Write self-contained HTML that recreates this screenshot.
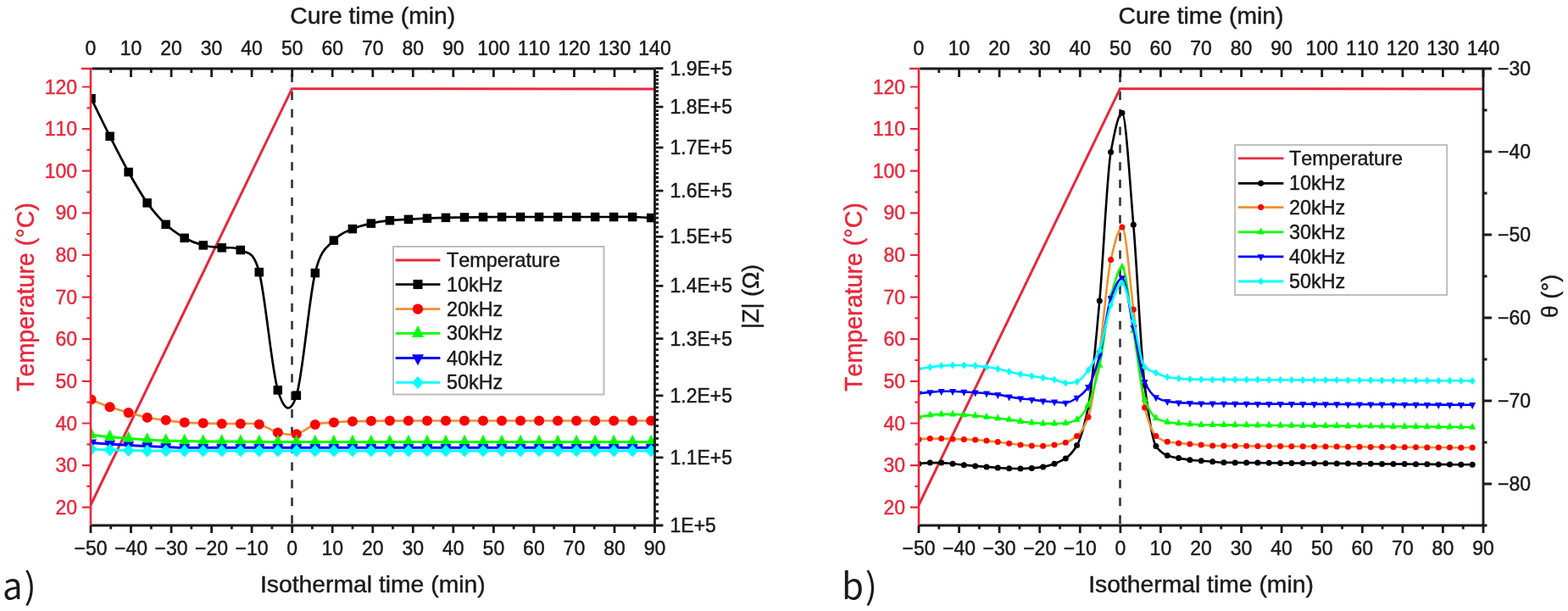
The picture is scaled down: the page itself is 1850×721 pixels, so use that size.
<!DOCTYPE html><html><head><meta charset="utf-8"><style>html,body{margin:0;padding:0;background:#fff;width:1850px;height:721px;overflow:hidden}svg{display:block;font-kerning:none}</style></head><body>
<svg width="1850" height="721" viewBox="0 0 1850 721">
<rect width="1850" height="721" fill="#fff"/>
<defs><clipPath id="ca"><rect x="107" y="81" width="665.5" height="539"/></clipPath><clipPath id="cb"><rect x="1084" y="81" width="666" height="539"/></clipPath></defs>
<path d="M344.5,81V620" stroke="#333" stroke-width="2.6" stroke-dasharray="10 10.84" stroke-dashoffset="14.79"/>
<g clip-path="url(#ca)">
<path d="M107,596L344.5,104.7L772.5,105" stroke="#e8283c" stroke-width="3" fill="none" stroke-linejoin="miter"/>
<path d="M107.6,116.2C111.3,123.6 122.3,146.3 129.6,160.8C137,175.3 144.3,189.9 151.6,203C159,216.1 166.3,229.1 173.7,239.4C181,249.7 188.3,257.9 195.7,264.8C203,271.7 210.4,276.7 217.7,280.8C225,284.9 232.4,287.6 239.7,289.5C247.1,291.4 254.4,291.4 261.7,292.3C269.1,293.2 276.4,290.2 283.8,295C291.1,299.8 298.4,293.5 305.8,321.1C313.1,348.7 320.5,436.1 327.8,460.4C335.1,484.6 342.5,489.7 349.8,466.6C357.2,443.6 364.5,352.6 371.8,322.1C379.2,291.6 386.5,292.3 393.9,283.6C401.2,274.9 408.5,273.4 415.9,270.1C423.2,266.8 430.6,265.4 437.9,263.7C445.2,262 452.6,261 459.9,260.2C467.3,259.4 474.6,259.2 481.9,258.8C489.3,258.4 496.6,257.9 504,257.6C511.3,257.3 518.6,257.1 526,256.9C533.3,256.7 540.7,256.6 548,256.5C555.3,256.4 562.7,256.3 570,256.2C577.4,256.1 584.7,256 592,256C599.4,256 606.7,256 614.1,256C621.4,256 628.7,256 636.1,256C643.4,256 650.8,256 658.1,256C665.4,256 672.8,256 680.1,256C687.5,256 694.8,256 702.1,256C709.5,256 716.8,256 724.2,256C731.5,256 738.8,255.8 746.2,256C753.5,256.2 764.5,256.8 768.2,257" stroke="#000" stroke-width="2.7" fill="none" stroke-linejoin="round"/>
<g fill="#000"><rect x="102.3" y="111" width="10.5" height="10.5"/><rect x="124.4" y="155.6" width="10.5" height="10.5"/><rect x="146.4" y="197.8" width="10.5" height="10.5"/><rect x="168.4" y="234.2" width="10.5" height="10.5"/><rect x="190.4" y="259.6" width="10.5" height="10.5"/><rect x="212.4" y="275.6" width="10.5" height="10.5"/><rect x="234.5" y="284.2" width="10.5" height="10.5"/><rect x="256.5" y="287.1" width="10.5" height="10.5"/><rect x="278.5" y="289.8" width="10.5" height="10.5"/><rect x="300.5" y="315.9" width="10.5" height="10.5"/><rect x="322.5" y="455.1" width="10.5" height="10.5"/><rect x="344.6" y="461.4" width="10.5" height="10.5"/><rect x="366.6" y="316.9" width="10.5" height="10.5"/><rect x="388.6" y="278.4" width="10.5" height="10.5"/><rect x="410.6" y="264.9" width="10.5" height="10.5"/><rect x="432.6" y="258.4" width="10.5" height="10.5"/><rect x="454.7" y="254.9" width="10.5" height="10.5"/><rect x="476.7" y="253.6" width="10.5" height="10.5"/><rect x="498.7" y="252.4" width="10.5" height="10.5"/><rect x="520.7" y="251.6" width="10.5" height="10.5"/><rect x="542.8" y="251.2" width="10.5" height="10.5"/><rect x="564.8" y="250.9" width="10.5" height="10.5"/><rect x="586.8" y="250.8" width="10.5" height="10.5"/><rect x="608.8" y="250.8" width="10.5" height="10.5"/><rect x="630.8" y="250.8" width="10.5" height="10.5"/><rect x="652.9" y="250.8" width="10.5" height="10.5"/><rect x="674.9" y="250.8" width="10.5" height="10.5"/><rect x="696.9" y="250.8" width="10.5" height="10.5"/><rect x="718.9" y="250.8" width="10.5" height="10.5"/><rect x="740.9" y="250.8" width="10.5" height="10.5"/><rect x="763" y="251.8" width="10.5" height="10.5"/></g>
<path d="M107.6,471.6C111.3,473.1 122.3,477.7 129.6,480.3C137,482.9 144.3,484.9 151.6,487C159,489.1 166.3,491.2 173.7,492.7C181,494.2 188.3,494.8 195.7,495.8C203,496.8 210.4,498 217.7,498.6C225,499.2 232.4,499.1 239.7,499.3C247.1,499.5 254.4,499.9 261.7,500C269.1,500.1 276.4,499.9 283.8,500C291.1,500.1 298.4,498.9 305.8,500.7C313.1,502.4 320.5,508.6 327.8,510.5C335.1,512.4 342.5,513.8 349.8,512.2C357.2,510.6 364.5,503.2 371.8,500.9C379.2,498.6 386.5,499.1 393.9,498.5C401.2,497.9 408.5,497.5 415.9,497.2C423.2,496.9 430.6,496.9 437.9,496.8C445.2,496.7 452.6,496.7 459.9,496.6C467.3,496.6 474.6,496.5 481.9,496.5C489.3,496.5 496.6,496.5 504,496.5C511.3,496.5 518.6,496.5 526,496.5C533.3,496.5 540.7,496.5 548,496.5C555.3,496.5 562.7,496.5 570,496.5C577.4,496.5 584.7,496.5 592,496.5C599.4,496.5 606.7,496.5 614.1,496.5C621.4,496.5 628.7,496.5 636.1,496.5C643.4,496.5 650.8,496.5 658.1,496.5C665.4,496.5 672.8,496.5 680.1,496.5C687.5,496.5 694.8,496.5 702.1,496.5C709.5,496.5 716.8,496.5 724.2,496.5C731.5,496.5 738.8,496.5 746.2,496.5C753.5,496.5 764.5,496.5 768.2,496.5" stroke="#f09030" stroke-width="2.7" fill="none" stroke-linejoin="round"/>
<g fill="#ff0000"><circle cx="107.6" cy="471.6" r="6"/><circle cx="129.6" cy="480.3" r="6"/><circle cx="151.6" cy="487" r="6"/><circle cx="173.7" cy="492.7" r="6"/><circle cx="195.7" cy="495.8" r="6"/><circle cx="217.7" cy="498.6" r="6"/><circle cx="239.7" cy="499.3" r="6"/><circle cx="261.7" cy="500" r="6"/><circle cx="283.8" cy="500" r="6"/><circle cx="305.8" cy="500.7" r="6"/><circle cx="327.8" cy="510.5" r="6"/><circle cx="349.8" cy="512.2" r="6"/><circle cx="371.8" cy="500.9" r="6"/><circle cx="393.9" cy="498.5" r="6"/><circle cx="415.9" cy="497.2" r="6"/><circle cx="437.9" cy="496.8" r="6"/><circle cx="459.9" cy="496.6" r="6"/><circle cx="481.9" cy="496.5" r="6"/><circle cx="504" cy="496.5" r="6"/><circle cx="526" cy="496.5" r="6"/><circle cx="548" cy="496.5" r="6"/><circle cx="570" cy="496.5" r="6"/><circle cx="592" cy="496.5" r="6"/><circle cx="614.1" cy="496.5" r="6"/><circle cx="636.1" cy="496.5" r="6"/><circle cx="658.1" cy="496.5" r="6"/><circle cx="680.1" cy="496.5" r="6"/><circle cx="702.1" cy="496.5" r="6"/><circle cx="724.2" cy="496.5" r="6"/><circle cx="746.2" cy="496.5" r="6"/><circle cx="768.2" cy="496.5" r="6"/></g>
<path d="M107.6,513C111.3,513.4 122.3,514.8 129.6,515.5C137,516.2 144.3,516.9 151.6,517.5C159,518.1 166.3,518.6 173.7,519C181,519.4 188.3,519.8 195.7,520C203,520.2 210.4,520.3 217.7,520.5C225,520.7 232.4,520.9 239.7,521C247.1,521.1 254.4,521 261.7,521C269.1,521 276.4,521.2 283.8,521.2C291.1,521.2 298.4,521.2 305.8,521.3C313.1,521.3 320.5,521.5 327.8,521.5C335.1,521.5 342.5,521.5 349.8,521.5C357.2,521.5 364.5,521.5 371.8,521.5C379.2,521.5 386.5,521.5 393.9,521.5C401.2,521.5 408.5,521.5 415.9,521.5C423.2,521.5 430.6,521.5 437.9,521.5C445.2,521.5 452.6,521.5 459.9,521.5C467.3,521.5 474.6,521.5 481.9,521.5C489.3,521.5 496.6,521.5 504,521.5C511.3,521.5 518.6,521.5 526,521.5C533.3,521.5 540.7,521.5 548,521.5C555.3,521.5 562.7,521.5 570,521.5C577.4,521.5 584.7,521.5 592,521.5C599.4,521.5 606.7,521.5 614.1,521.5C621.4,521.5 628.7,521.5 636.1,521.5C643.4,521.5 650.8,521.5 658.1,521.5C665.4,521.5 672.8,521.5 680.1,521.5C687.5,521.5 694.8,521.5 702.1,521.5C709.5,521.5 716.8,521.5 724.2,521.5C731.5,521.5 738.8,521.5 746.2,521.5C753.5,521.5 764.5,521.5 768.2,521.5" stroke="#00ff00" stroke-width="3" fill="none" stroke-linejoin="round"/>
<g fill="#00ff00"><path d="M107.6,504.3L114.1,517.3L101.1,517.3Z"/><path d="M129.6,506.8L136.1,519.8L123.1,519.8Z"/><path d="M151.6,508.8L158.1,521.8L145.1,521.8Z"/><path d="M173.7,510.3L180.2,523.3L167.2,523.3Z"/><path d="M195.7,511.3L202.2,524.3L189.2,524.3Z"/><path d="M217.7,511.8L224.2,524.8L211.2,524.8Z"/><path d="M239.7,512.3L246.2,525.3L233.2,525.3Z"/><path d="M261.7,512.3L268.2,525.3L255.2,525.3Z"/><path d="M283.8,512.5L290.3,525.5L277.3,525.5Z"/><path d="M305.8,512.6L312.3,525.6L299.3,525.6Z"/><path d="M327.8,512.8L334.3,525.8L321.3,525.8Z"/><path d="M349.8,512.8L356.3,525.8L343.3,525.8Z"/><path d="M371.8,512.8L378.3,525.8L365.3,525.8Z"/><path d="M393.9,512.8L400.4,525.8L387.4,525.8Z"/><path d="M415.9,512.8L422.4,525.8L409.4,525.8Z"/><path d="M437.9,512.8L444.4,525.8L431.4,525.8Z"/><path d="M459.9,512.8L466.4,525.8L453.4,525.8Z"/><path d="M481.9,512.8L488.4,525.8L475.4,525.8Z"/><path d="M504,512.8L510.5,525.8L497.5,525.8Z"/><path d="M526,512.8L532.5,525.8L519.5,525.8Z"/><path d="M548,512.8L554.5,525.8L541.5,525.8Z"/><path d="M570,512.8L576.5,525.8L563.5,525.8Z"/><path d="M592,512.8L598.5,525.8L585.5,525.8Z"/><path d="M614.1,512.8L620.6,525.8L607.6,525.8Z"/><path d="M636.1,512.8L642.6,525.8L629.6,525.8Z"/><path d="M658.1,512.8L664.6,525.8L651.6,525.8Z"/><path d="M680.1,512.8L686.6,525.8L673.6,525.8Z"/><path d="M702.1,512.8L708.6,525.8L695.6,525.8Z"/><path d="M724.2,512.8L730.7,525.8L717.7,525.8Z"/><path d="M746.2,512.8L752.7,525.8L739.7,525.8Z"/><path d="M768.2,512.8L774.7,525.8L761.7,525.8Z"/></g>
<path d="M107.6,522.5C111.3,522.8 122.3,523.5 129.6,524C137,524.5 144.3,525.1 151.6,525.5C159,525.9 166.3,526.2 173.7,526.5C181,526.8 188.3,527.2 195.7,527.5C203,527.8 210.4,528.2 217.7,528.3C225,528.4 232.4,528.3 239.7,528.3C247.1,528.3 254.4,528.3 261.7,528.3C269.1,528.3 276.4,528.3 283.8,528.3C291.1,528.3 298.4,528.3 305.8,528.3C313.1,528.3 320.5,528.3 327.8,528.3C335.1,528.3 342.5,528.3 349.8,528.3C357.2,528.3 364.5,528.3 371.8,528.3C379.2,528.3 386.5,528.3 393.9,528.3C401.2,528.3 408.5,528.3 415.9,528.3C423.2,528.3 430.6,528.3 437.9,528.3C445.2,528.3 452.6,528.3 459.9,528.3C467.3,528.3 474.6,528.3 481.9,528.3C489.3,528.3 496.6,528.3 504,528.3C511.3,528.3 518.6,528.3 526,528.3C533.3,528.3 540.7,528.3 548,528.3C555.3,528.3 562.7,528.3 570,528.3C577.4,528.3 584.7,528.3 592,528.3C599.4,528.3 606.7,528.3 614.1,528.3C621.4,528.3 628.7,528.3 636.1,528.3C643.4,528.3 650.8,528.3 658.1,528.3C665.4,528.3 672.8,528.3 680.1,528.3C687.5,528.3 694.8,528.3 702.1,528.3C709.5,528.3 716.8,528.3 724.2,528.3C731.5,528.3 738.8,528.3 746.2,528.3C753.5,528.3 764.5,528.3 768.2,528.3" stroke="#0000ff" stroke-width="3" fill="none" stroke-linejoin="round"/>
<g fill="#0000ff"><path d="M101.1,518.5L114.1,518.5L107.6,530.5Z"/><path d="M123.1,520L136.1,520L129.6,532Z"/><path d="M145.1,521.5L158.1,521.5L151.6,533.5Z"/><path d="M167.2,522.5L180.2,522.5L173.7,534.5Z"/><path d="M189.2,523.5L202.2,523.5L195.7,535.5Z"/><path d="M211.2,524.3L224.2,524.3L217.7,536.3Z"/><path d="M233.2,524.3L246.2,524.3L239.7,536.3Z"/><path d="M255.2,524.3L268.2,524.3L261.7,536.3Z"/><path d="M277.3,524.3L290.3,524.3L283.8,536.3Z"/><path d="M299.3,524.3L312.3,524.3L305.8,536.3Z"/><path d="M321.3,524.3L334.3,524.3L327.8,536.3Z"/><path d="M343.3,524.3L356.3,524.3L349.8,536.3Z"/><path d="M365.3,524.3L378.3,524.3L371.8,536.3Z"/><path d="M387.4,524.3L400.4,524.3L393.9,536.3Z"/><path d="M409.4,524.3L422.4,524.3L415.9,536.3Z"/><path d="M431.4,524.3L444.4,524.3L437.9,536.3Z"/><path d="M453.4,524.3L466.4,524.3L459.9,536.3Z"/><path d="M475.4,524.3L488.4,524.3L481.9,536.3Z"/><path d="M497.5,524.3L510.5,524.3L504,536.3Z"/><path d="M519.5,524.3L532.5,524.3L526,536.3Z"/><path d="M541.5,524.3L554.5,524.3L548,536.3Z"/><path d="M563.5,524.3L576.5,524.3L570,536.3Z"/><path d="M585.5,524.3L598.5,524.3L592,536.3Z"/><path d="M607.6,524.3L620.6,524.3L614.1,536.3Z"/><path d="M629.6,524.3L642.6,524.3L636.1,536.3Z"/><path d="M651.6,524.3L664.6,524.3L658.1,536.3Z"/><path d="M673.6,524.3L686.6,524.3L680.1,536.3Z"/><path d="M695.6,524.3L708.6,524.3L702.1,536.3Z"/><path d="M717.7,524.3L730.7,524.3L724.2,536.3Z"/><path d="M739.7,524.3L752.7,524.3L746.2,536.3Z"/><path d="M761.7,524.3L774.7,524.3L768.2,536.3Z"/></g>
<path d="M107.6,530C111.3,530.2 122.3,530.8 129.6,531C137,531.2 144.3,531.3 151.6,531.5C159,531.7 166.3,531.9 173.7,532C181,532.1 188.3,532 195.7,532C203,532 210.4,532 217.7,532C225,532 232.4,532 239.7,532C247.1,532 254.4,532 261.7,532C269.1,532 276.4,532 283.8,532C291.1,532 298.4,532 305.8,532C313.1,532 320.5,532 327.8,532C335.1,532 342.5,532 349.8,532C357.2,532 364.5,532 371.8,532C379.2,532 386.5,532 393.9,532C401.2,532 408.5,532 415.9,532C423.2,532 430.6,532 437.9,532C445.2,532 452.6,532 459.9,532C467.3,532 474.6,532 481.9,532C489.3,532 496.6,532 504,532C511.3,532 518.6,532 526,532C533.3,532 540.7,532 548,532C555.3,532 562.7,532 570,532C577.4,532 584.7,532 592,532C599.4,532 606.7,532 614.1,532C621.4,532 628.7,532 636.1,532C643.4,532 650.8,532 658.1,532C665.4,532 672.8,532 680.1,532C687.5,532 694.8,532 702.1,532C709.5,532 716.8,532 724.2,532C731.5,532 738.8,532 746.2,532C753.5,532 764.5,532 768.2,532" stroke="#00ffff" stroke-width="3" fill="none" stroke-linejoin="round"/>
<g fill="#00ffff"><path d="M107.6,522.5L114.6,530L107.6,537.5L100.6,530Z"/><path d="M129.6,523.5L136.6,531L129.6,538.5L122.6,531Z"/><path d="M151.6,524L158.6,531.5L151.6,539L144.6,531.5Z"/><path d="M173.7,524.5L180.7,532L173.7,539.5L166.7,532Z"/><path d="M195.7,524.5L202.7,532L195.7,539.5L188.7,532Z"/><path d="M217.7,524.5L224.7,532L217.7,539.5L210.7,532Z"/><path d="M239.7,524.5L246.7,532L239.7,539.5L232.7,532Z"/><path d="M261.7,524.5L268.7,532L261.7,539.5L254.7,532Z"/><path d="M283.8,524.5L290.8,532L283.8,539.5L276.8,532Z"/><path d="M305.8,524.5L312.8,532L305.8,539.5L298.8,532Z"/><path d="M327.8,524.5L334.8,532L327.8,539.5L320.8,532Z"/><path d="M349.8,524.5L356.8,532L349.8,539.5L342.8,532Z"/><path d="M371.8,524.5L378.8,532L371.8,539.5L364.8,532Z"/><path d="M393.9,524.5L400.9,532L393.9,539.5L386.9,532Z"/><path d="M415.9,524.5L422.9,532L415.9,539.5L408.9,532Z"/><path d="M437.9,524.5L444.9,532L437.9,539.5L430.9,532Z"/><path d="M459.9,524.5L466.9,532L459.9,539.5L452.9,532Z"/><path d="M481.9,524.5L488.9,532L481.9,539.5L474.9,532Z"/><path d="M504,524.5L511,532L504,539.5L497,532Z"/><path d="M526,524.5L533,532L526,539.5L519,532Z"/><path d="M548,524.5L555,532L548,539.5L541,532Z"/><path d="M570,524.5L577,532L570,539.5L563,532Z"/><path d="M592,524.5L599,532L592,539.5L585,532Z"/><path d="M614.1,524.5L621.1,532L614.1,539.5L607.1,532Z"/><path d="M636.1,524.5L643.1,532L636.1,539.5L629.1,532Z"/><path d="M658.1,524.5L665.1,532L658.1,539.5L651.1,532Z"/><path d="M680.1,524.5L687.1,532L680.1,539.5L673.1,532Z"/><path d="M702.1,524.5L709.1,532L702.1,539.5L695.1,532Z"/><path d="M724.2,524.5L731.2,532L724.2,539.5L717.2,532Z"/><path d="M746.2,524.5L753.2,532L746.2,539.5L739.2,532Z"/><path d="M768.2,524.5L775.2,532L768.2,539.5L761.2,532Z"/></g>
</g>
<g stroke="#1a1a1a" stroke-width="2.8" fill="none">
<path d="M108.3,81H772.5"/>
<path d="M107,620H772.5"/>
<path d="M772.5,81V620"/>
<path d="M130.8,81v5M154.5,81v10M178.3,81v5M202.1,81v10M225.8,81v5M249.6,81v10M273.4,81v5M297.1,81v10M320.9,81v5M344.7,81v10M368.4,81v5M392.2,81v10M416,81v5M439.8,81v10M463.5,81v5M487.3,81v10M511.1,81v5M534.8,81v10M558.6,81v5M582.4,81v10M606.1,81v5M629.9,81v10M653.7,81v5M677.4,81v10M701.2,81v5M725,81v10M748.7,81v5M772.5,81v10M107,620v9M130.8,620v4.5M154.5,620v9M178.3,620v4.5M202.1,620v9M225.8,620v4.5M249.6,620v9M273.4,620v4.5M297.1,620v9M320.9,620v4.5M344.7,620v9M368.4,620v4.5M392.2,620v9M416,620v4.5M439.8,620v9M463.5,620v4.5M487.3,620v9M511.1,620v4.5M534.8,620v9M558.6,620v4.5M582.4,620v9M606.1,620v4.5M629.9,620v9M653.7,620v4.5M677.4,620v9M701.2,620v4.5M725,620v9M748.7,620v4.5M772.5,620v9M772.5,620h10M772.5,611.6h4.5M772.5,603.4h4.5M772.5,595.2h4.5M772.5,587h4.5M772.5,579h4.5M772.5,571h4.5M772.5,563.2h4.5M772.5,555.3h4.5M772.5,547.6h4.5M772.5,539.9h10M772.5,532.3h4.5M772.5,524.8h4.5M772.5,517.3h4.5M772.5,509.9h4.5M772.5,502.6h4.5M772.5,495.3h4.5M772.5,488.1h4.5M772.5,480.9h4.5M772.5,473.8h4.5M772.5,466.8h10M772.5,459.8h4.5M772.5,452.9h4.5M772.5,446.1h4.5M772.5,439.3h4.5M772.5,432.5h4.5M772.5,425.8h4.5M772.5,419.2h4.5M772.5,412.6h4.5M772.5,406.1h4.5M772.5,399.6h10M772.5,393.1h4.5M772.5,386.7h4.5M772.5,380.4h4.5M772.5,374.1h4.5M772.5,367.9h4.5M772.5,361.7h4.5M772.5,355.5h4.5M772.5,349.4h4.5M772.5,343.3h4.5M772.5,337.3h10M772.5,331.3h4.5M772.5,325.4h4.5M772.5,319.5h4.5M772.5,313.6h4.5M772.5,307.8h4.5M772.5,302h4.5M772.5,296.3h4.5M772.5,290.6h4.5M772.5,285h4.5M772.5,279.3h10M772.5,273.8h4.5M772.5,268.2h4.5M772.5,262.7h4.5M772.5,257.2h4.5M772.5,251.8h4.5M772.5,246.4h4.5M772.5,241h4.5M772.5,235.7h4.5M772.5,230.4h4.5M772.5,225.1h10M772.5,219.9h4.5M772.5,214.7h4.5M772.5,209.5h4.5M772.5,204.4h4.5M772.5,199.3h4.5M772.5,194.2h4.5M772.5,189.1h4.5M772.5,184.1h4.5M772.5,179.1h4.5M772.5,174.2h10M772.5,169.2h4.5M772.5,164.3h4.5M772.5,159.5h4.5M772.5,154.6h4.5M772.5,149.8h4.5M772.5,145h4.5M772.5,140.3h4.5M772.5,135.5h4.5M772.5,130.8h4.5M772.5,126.1h10M772.5,121.5h4.5M772.5,116.9h4.5M772.5,112.3h4.5M772.5,107.7h4.5M772.5,103.1h4.5M772.5,98.6h4.5M772.5,94.1h4.5M772.5,89.6h4.5M772.5,85.2h4.5M772.5,80.7h10"/>
</g>
<path d="M107,79.7V620M96,81H108.3" stroke="#e8283c" stroke-width="2.6" fill="none"/>
<path d="M107,598.7h-10M107,573.9h-4.5M107,549.1h-10M107,524.3h-4.5M107,499.5h-10M107,474.7h-4.5M107,449.8h-10M107,425h-4.5M107,400.2h-10M107,375.4h-4.5M107,350.6h-10M107,325.8h-4.5M107,301h-10M107,276.2h-4.5M107,251.4h-10M107,226.6h-4.5M107,201.7h-10M107,176.9h-4.5M107,152.1h-10M107,127.3h-4.5M107,102.5h-10" stroke="#e8283c" stroke-width="2.2" fill="none"/>
<g font-family="Liberation Sans, Arial, sans-serif" stroke-width="0.45" font-size="23" fill="#1a1a1a" text-anchor="middle" stroke="#1a1a1a">
<text x="107" y="64.5">0</text>
<text x="154.5" y="64.5">10</text>
<text x="202.1" y="64.5">20</text>
<text x="249.6" y="64.5">30</text>
<text x="297.1" y="64.5">40</text>
<text x="344.7" y="64.5">50</text>
<text x="392.2" y="64.5">60</text>
<text x="439.8" y="64.5">70</text>
<text x="487.3" y="64.5">80</text>
<text x="534.8" y="64.5">90</text>
<text x="582.4" y="64.5">100</text>
<text x="629.9" y="64.5">110</text>
<text x="677.4" y="64.5">120</text>
<text x="725" y="64.5">130</text>
<text x="772.5" y="64.5">140</text>
<text x="107" y="655">−50</text>
<text x="154.5" y="655">−40</text>
<text x="202.1" y="655">−30</text>
<text x="249.6" y="655">−20</text>
<text x="297.1" y="655">−10</text>
<text x="344.7" y="655">0</text>
<text x="392.2" y="655">10</text>
<text x="439.8" y="655">20</text>
<text x="487.3" y="655">30</text>
<text x="534.8" y="655">40</text>
<text x="582.4" y="655">50</text>
<text x="629.9" y="655">60</text>
<text x="677.4" y="655">70</text>
<text x="725" y="655">80</text>
<text x="772.5" y="655">90</text>
</g>
<g font-family="Liberation Sans, Arial, sans-serif" stroke-width="0.45" font-size="23" fill="#e8283c" text-anchor="end" stroke="#e8283c">
<text x="91" y="606.7">20</text>
<text x="91" y="557.1">30</text>
<text x="91" y="507.5">40</text>
<text x="91" y="457.8">50</text>
<text x="91" y="408.2">60</text>
<text x="91" y="358.6">70</text>
<text x="91" y="309">80</text>
<text x="91" y="259.4">90</text>
<text x="91" y="209.7">100</text>
<text x="91" y="160.1">110</text>
<text x="91" y="110.5">120</text>
</g>
<g font-family="Liberation Sans, Arial, sans-serif" stroke-width="0.45" font-size="23" fill="#1a1a1a" stroke="#1a1a1a">
<text x="790.5" y="628">1E+5</text>
<text x="790.5" y="547.9">1.1E+5</text>
<text x="790.5" y="474.8">1.2E+5</text>
<text x="790.5" y="407.6">1.3E+5</text>
<text x="790.5" y="345.3">1.4E+5</text>
<text x="790.5" y="287.3">1.5E+5</text>
<text x="790.5" y="233.1">1.6E+5</text>
<text x="790.5" y="182.2">1.7E+5</text>
<text x="790.5" y="134.1">1.8E+5</text>
<text x="790.5" y="88.7">1.9E+5</text>
</g>
<g font-family="Liberation Sans, Arial, sans-serif" stroke-width="0.45" font-size="28.3" fill="#1a1a1a" text-anchor="middle" stroke="#1a1a1a">
<text x="439.8" y="28">Cure time (min)</text>
<text x="439.8" y="699">Isothermal time (min)</text>
</g>
<text font-family="Liberation Sans, Arial, sans-serif" stroke-width="0.45" font-size="28.6" fill="#e8283c" text-anchor="middle" transform="translate(40,350.5) rotate(-90)" stroke="#e8283c">Temperature (°C)</text>
<path d="M1321.5,81V620" stroke="#333" stroke-width="2.6" stroke-dasharray="10 10.84" stroke-dashoffset="14.79"/>
<g clip-path="url(#cb)">
<path d="M1084,596L1321.5,104.7L1750,105" stroke="#e8283c" stroke-width="3" fill="none" stroke-linejoin="miter"/>
<path d="M1084,547.2C1088.4,546.7 1092.9,546.1 1097.3,546.1C1101.8,546.1 1106.2,546.1 1110.7,546.1C1115.1,546.1 1119.5,546.8 1124,547.2C1128.4,547.6 1132.9,548.4 1137.3,548.8C1141.8,549.2 1146.2,549.6 1150.7,549.9C1155.1,550.2 1159.5,550.6 1164,550.9C1168.4,551.2 1172.9,551.6 1177.3,551.9C1181.8,552.2 1186.2,552.7 1190.6,552.8C1195.1,552.9 1199.5,553 1204,553C1208.4,553 1212.9,552.7 1217.3,552.4C1221.7,552.1 1226.2,551.6 1230.6,550.9C1235.1,550.2 1239.5,548.8 1244,547.2C1248.4,545.6 1252.8,543.9 1257.3,540.9C1261.7,537.9 1266.2,533.2 1270.6,525.5C1275.1,517.8 1279.5,502.2 1284,480C1288.4,457.8 1292.8,403.7 1297.3,355C1301.7,306.3 1306.2,203.9 1310.6,179.5C1315.1,155.1 1319.5,133.3 1323.9,133.3C1328.4,133.3 1332.8,213.4 1337.3,265.3C1341.7,317.2 1346.2,420.4 1350.6,455C1355,489.6 1359.5,520.1 1363.9,526.5C1368.4,532.9 1372.8,535.9 1377.3,537.5C1381.7,539.1 1386.1,539.8 1390.6,540.6C1395,541.4 1399.5,542.2 1403.9,542.7C1408.4,543.2 1412.8,543.4 1417.2,543.7C1421.7,544 1426.1,544.5 1430.6,544.8C1435,545.1 1439.5,545.7 1443.9,545.8C1448.4,545.9 1452.8,545.9 1457.2,545.9C1461.7,546 1466.1,546 1470.6,546C1475,546.1 1479.5,546.1 1483.9,546.1C1488.3,546.2 1492.8,546.2 1497.2,546.3C1501.7,546.3 1506.1,546.3 1510.6,546.4C1515,546.4 1519.4,546.4 1523.9,546.5C1528.3,546.5 1532.8,546.6 1537.2,546.6C1541.7,546.6 1546.1,546.7 1550.5,546.7C1555,546.7 1559.4,546.8 1563.9,546.8C1568.3,546.9 1572.8,546.9 1577.2,546.9C1581.7,547 1586.1,547 1590.5,547C1595,547.1 1599.4,547.1 1603.9,547.2C1608.3,547.2 1612.8,547.2 1617.2,547.3C1621.6,547.3 1626.1,547.4 1630.5,547.4C1635,547.4 1639.4,547.5 1643.9,547.5C1648.3,547.5 1652.7,547.6 1657.2,547.6C1661.6,547.7 1666.1,547.7 1670.5,547.7C1675,547.8 1679.4,547.8 1683.8,547.8C1688.3,547.9 1692.7,547.9 1697.2,548C1701.6,548 1706.1,548 1710.5,548.1C1715,548.1 1719.4,548.1 1723.8,548.2C1728.3,548.2 1732.7,548.3 1737.2,548.3" stroke="#000" stroke-width="2.6" fill="none" stroke-linejoin="round"/>
<g fill="#000"><circle cx="1084" cy="547.2" r="3.5"/><circle cx="1097.3" cy="546.1" r="3.5"/><circle cx="1110.7" cy="546.1" r="3.5"/><circle cx="1124" cy="547.2" r="3.5"/><circle cx="1137.3" cy="548.8" r="3.5"/><circle cx="1150.7" cy="549.9" r="3.5"/><circle cx="1164" cy="550.9" r="3.5"/><circle cx="1177.3" cy="551.9" r="3.5"/><circle cx="1190.6" cy="552.8" r="3.5"/><circle cx="1204" cy="553" r="3.5"/><circle cx="1217.3" cy="552.4" r="3.5"/><circle cx="1230.6" cy="550.9" r="3.5"/><circle cx="1244" cy="547.2" r="3.5"/><circle cx="1257.3" cy="540.9" r="3.5"/><circle cx="1270.6" cy="525.5" r="3.5"/><circle cx="1284" cy="480" r="3.5"/><circle cx="1297.3" cy="355" r="3.5"/><circle cx="1310.6" cy="179.5" r="3.5"/><circle cx="1323.9" cy="133.3" r="3.5"/><circle cx="1337.3" cy="265.3" r="3.5"/><circle cx="1350.6" cy="455" r="3.5"/><circle cx="1363.9" cy="526.5" r="3.5"/><circle cx="1377.3" cy="537.5" r="3.5"/><circle cx="1390.6" cy="540.6" r="3.5"/><circle cx="1403.9" cy="542.7" r="3.5"/><circle cx="1417.2" cy="543.7" r="3.5"/><circle cx="1430.6" cy="544.8" r="3.5"/><circle cx="1443.9" cy="545.8" r="3.5"/><circle cx="1457.2" cy="545.9" r="3.5"/><circle cx="1470.6" cy="546" r="3.5"/><circle cx="1483.9" cy="546.1" r="3.5"/><circle cx="1497.2" cy="546.3" r="3.5"/><circle cx="1510.6" cy="546.4" r="3.5"/><circle cx="1523.9" cy="546.5" r="3.5"/><circle cx="1537.2" cy="546.6" r="3.5"/><circle cx="1550.5" cy="546.7" r="3.5"/><circle cx="1563.9" cy="546.8" r="3.5"/><circle cx="1577.2" cy="546.9" r="3.5"/><circle cx="1590.5" cy="547" r="3.5"/><circle cx="1603.9" cy="547.2" r="3.5"/><circle cx="1617.2" cy="547.3" r="3.5"/><circle cx="1630.5" cy="547.4" r="3.5"/><circle cx="1643.9" cy="547.5" r="3.5"/><circle cx="1657.2" cy="547.6" r="3.5"/><circle cx="1670.5" cy="547.7" r="3.5"/><circle cx="1683.8" cy="547.8" r="3.5"/><circle cx="1697.2" cy="548" r="3.5"/><circle cx="1710.5" cy="548.1" r="3.5"/><circle cx="1723.8" cy="548.2" r="3.5"/><circle cx="1737.2" cy="548.3" r="3.5"/></g>
<path d="M1084,518.4C1088.4,518 1092.9,517.6 1097.3,517.6C1101.8,517.6 1106.2,517.6 1110.7,517.6C1115.1,517.6 1119.5,517.9 1124,518C1128.4,518.1 1132.9,518.2 1137.3,518.4C1141.8,518.6 1146.2,518.8 1150.7,519.1C1155.1,519.4 1159.5,519.7 1164,520.1C1168.4,520.5 1172.9,521.1 1177.3,521.6C1181.8,522.1 1186.2,522.7 1190.6,523.2C1195.1,523.7 1199.5,524.5 1204,524.9C1208.4,525.3 1212.9,525.7 1217.3,525.9C1221.7,526.1 1226.2,526.3 1230.6,526.3C1235.1,526.3 1239.5,525.5 1244,524.9C1248.4,524.3 1252.8,523.5 1257.3,522.2C1261.7,520.9 1266.2,518.3 1270.6,514.5C1275.1,510.7 1279.5,503.7 1284,492.2C1288.4,480.7 1292.8,445.1 1297.3,415C1301.7,384.9 1306.2,325.4 1310.6,306.5C1315.1,287.6 1319.5,268 1323.9,268C1328.4,268 1332.8,330 1337.3,365.2C1341.7,400.4 1346.2,463.9 1350.6,481.1C1355,498.3 1359.5,510.6 1363.9,514.4C1368.4,518.2 1372.8,520.4 1377.3,521.3C1381.7,522.2 1386.1,522.5 1390.6,522.9C1395,523.3 1399.5,523.7 1403.9,524C1408.4,524.3 1412.8,524.7 1417.2,525C1421.7,525.3 1426.1,525.9 1430.6,526C1435,526.1 1439.5,526.1 1443.9,526.1C1448.4,526.1 1452.8,526.2 1457.2,526.2C1461.7,526.2 1466.1,526.3 1470.6,526.3C1475,526.3 1479.5,526.4 1483.9,526.4C1488.3,526.4 1492.8,526.5 1497.2,526.5C1501.7,526.5 1506.1,526.6 1510.6,526.6C1515,526.6 1519.4,526.7 1523.9,526.7C1528.3,526.7 1532.8,526.8 1537.2,526.8C1541.7,526.8 1546.1,526.9 1550.5,526.9C1555,526.9 1559.4,527 1563.9,527C1568.3,527 1572.8,527.1 1577.2,527.1C1581.7,527.1 1586.1,527.2 1590.5,527.2C1595,527.2 1599.4,527.3 1603.9,527.3C1608.3,527.3 1612.8,527.4 1617.2,527.4C1621.6,527.4 1626.1,527.5 1630.5,527.5C1635,527.5 1639.4,527.6 1643.9,527.6C1648.3,527.6 1652.7,527.7 1657.2,527.7C1661.6,527.7 1666.1,527.8 1670.5,527.8C1675,527.8 1679.4,527.9 1683.8,527.9C1688.3,527.9 1692.7,528 1697.2,528C1701.6,528 1706.1,528.1 1710.5,528.1C1715,528.1 1719.4,528.2 1723.8,528.2C1728.3,528.2 1732.7,528.3 1737.2,528.3" stroke="#f09030" stroke-width="2.6" fill="none" stroke-linejoin="round"/>
<g fill="#ff0000"><circle cx="1084" cy="518.4" r="3.5"/><circle cx="1097.3" cy="517.6" r="3.5"/><circle cx="1110.7" cy="517.6" r="3.5"/><circle cx="1124" cy="518" r="3.5"/><circle cx="1137.3" cy="518.4" r="3.5"/><circle cx="1150.7" cy="519.1" r="3.5"/><circle cx="1164" cy="520.1" r="3.5"/><circle cx="1177.3" cy="521.6" r="3.5"/><circle cx="1190.6" cy="523.2" r="3.5"/><circle cx="1204" cy="524.9" r="3.5"/><circle cx="1217.3" cy="525.9" r="3.5"/><circle cx="1230.6" cy="526.3" r="3.5"/><circle cx="1244" cy="524.9" r="3.5"/><circle cx="1257.3" cy="522.2" r="3.5"/><circle cx="1270.6" cy="514.5" r="3.5"/><circle cx="1284" cy="492.2" r="3.5"/><circle cx="1297.3" cy="415" r="3.5"/><circle cx="1310.6" cy="306.5" r="3.5"/><circle cx="1323.9" cy="268" r="3.5"/><circle cx="1337.3" cy="365.2" r="3.5"/><circle cx="1350.6" cy="481.1" r="3.5"/><circle cx="1363.9" cy="514.4" r="3.5"/><circle cx="1377.3" cy="521.3" r="3.5"/><circle cx="1390.6" cy="522.9" r="3.5"/><circle cx="1403.9" cy="524" r="3.5"/><circle cx="1417.2" cy="525" r="3.5"/><circle cx="1430.6" cy="526" r="3.5"/><circle cx="1443.9" cy="526.1" r="3.5"/><circle cx="1457.2" cy="526.2" r="3.5"/><circle cx="1470.6" cy="526.3" r="3.5"/><circle cx="1483.9" cy="526.4" r="3.5"/><circle cx="1497.2" cy="526.5" r="3.5"/><circle cx="1510.6" cy="526.6" r="3.5"/><circle cx="1523.9" cy="526.7" r="3.5"/><circle cx="1537.2" cy="526.8" r="3.5"/><circle cx="1550.5" cy="526.9" r="3.5"/><circle cx="1563.9" cy="527" r="3.5"/><circle cx="1577.2" cy="527.1" r="3.5"/><circle cx="1590.5" cy="527.2" r="3.5"/><circle cx="1603.9" cy="527.3" r="3.5"/><circle cx="1617.2" cy="527.4" r="3.5"/><circle cx="1630.5" cy="527.5" r="3.5"/><circle cx="1643.9" cy="527.6" r="3.5"/><circle cx="1657.2" cy="527.7" r="3.5"/><circle cx="1670.5" cy="527.8" r="3.5"/><circle cx="1683.8" cy="527.9" r="3.5"/><circle cx="1697.2" cy="528" r="3.5"/><circle cx="1710.5" cy="528.1" r="3.5"/><circle cx="1723.8" cy="528.2" r="3.5"/><circle cx="1737.2" cy="528.3" r="3.5"/></g>
<path d="M1084,492C1088.4,491.1 1092.9,490.4 1097.3,489.9C1101.8,489.4 1106.2,488.9 1110.7,488.9C1115.1,488.9 1119.5,488.9 1124,488.9C1128.4,488.9 1132.9,489.2 1137.3,489.5C1141.8,489.8 1146.2,490.1 1150.7,490.5C1155.1,490.9 1159.5,491.5 1164,492C1168.4,492.5 1172.9,493 1177.3,493.5C1181.8,494 1186.2,494.5 1190.6,495.1C1195.1,495.7 1199.5,496.6 1204,497.2C1208.4,497.8 1212.9,498.3 1217.3,498.7C1221.7,499.1 1226.2,499.6 1230.6,499.7C1235.1,499.8 1239.5,499.9 1244,499.9C1248.4,499.9 1252.8,499.6 1257.3,499.3C1261.7,499 1266.2,497.3 1270.6,495.1C1275.1,492.9 1279.5,486.4 1284,478C1288.4,469.6 1292.8,450.9 1297.3,431.1C1301.7,411.3 1306.2,366.3 1310.6,350C1315.1,333.7 1319.5,315 1323.9,315C1328.4,315 1332.8,364 1337.3,390C1341.7,416 1346.2,459.5 1350.6,471.1C1355,482.7 1359.5,490.7 1363.9,493.3C1368.4,495.9 1372.8,497.2 1377.3,498C1381.7,498.8 1386.1,499.2 1390.6,499.6C1395,500 1399.5,500.2 1403.9,500.5C1408.4,500.8 1412.8,501.1 1417.2,501.2C1421.7,501.3 1426.1,501.3 1430.6,501.3C1435,501.4 1439.5,501.4 1443.9,501.4C1448.4,501.5 1452.8,501.5 1457.2,501.6C1461.7,501.6 1466.1,501.6 1470.6,501.7C1475,501.7 1479.5,501.7 1483.9,501.8C1488.3,501.8 1492.8,501.9 1497.2,501.9C1501.7,501.9 1506.1,502 1510.6,502C1515,502.1 1519.4,502.1 1523.9,502.1C1528.3,502.2 1532.8,502.2 1537.2,502.2C1541.7,502.3 1546.1,502.3 1550.5,502.4C1555,502.4 1559.4,502.4 1563.9,502.5C1568.3,502.5 1572.8,502.6 1577.2,502.6C1581.7,502.6 1586.1,502.7 1590.5,502.7C1595,502.8 1599.4,502.8 1603.9,502.8C1608.3,502.9 1612.8,502.9 1617.2,502.9C1621.6,503 1626.1,503 1630.5,503.1C1635,503.1 1639.4,503.1 1643.9,503.2C1648.3,503.2 1652.7,503.3 1657.2,503.3C1661.6,503.3 1666.1,503.4 1670.5,503.4C1675,503.5 1679.4,503.5 1683.8,503.5C1688.3,503.6 1692.7,503.6 1697.2,503.6C1701.6,503.7 1706.1,503.7 1710.5,503.8C1715,503.8 1719.4,503.8 1723.8,503.9C1728.3,503.9 1732.7,504 1737.2,504" stroke="#00ff00" stroke-width="2.6" fill="none" stroke-linejoin="round"/>
<g fill="#00ff00"><path d="M1084,486.7L1088,494.7L1080,494.7Z"/><path d="M1097.3,484.6L1101.3,492.6L1093.3,492.6Z"/><path d="M1110.7,483.6L1114.7,491.6L1106.7,491.6Z"/><path d="M1124,483.6L1128,491.6L1120,491.6Z"/><path d="M1137.3,484.2L1141.3,492.2L1133.3,492.2Z"/><path d="M1150.7,485.2L1154.7,493.2L1146.7,493.2Z"/><path d="M1164,486.7L1168,494.7L1160,494.7Z"/><path d="M1177.3,488.2L1181.3,496.2L1173.3,496.2Z"/><path d="M1190.6,489.8L1194.6,497.8L1186.6,497.8Z"/><path d="M1204,491.9L1208,499.9L1200,499.9Z"/><path d="M1217.3,493.4L1221.3,501.4L1213.3,501.4Z"/><path d="M1230.6,494.4L1234.6,502.4L1226.6,502.4Z"/><path d="M1244,494.6L1248,502.6L1240,502.6Z"/><path d="M1257.3,494L1261.3,502L1253.3,502Z"/><path d="M1270.6,489.8L1274.6,497.8L1266.6,497.8Z"/><path d="M1284,472.7L1288,480.7L1280,480.7Z"/><path d="M1297.3,425.8L1301.3,433.8L1293.3,433.8Z"/><path d="M1310.6,344.7L1314.6,352.7L1306.6,352.7Z"/><path d="M1323.9,309.7L1327.9,317.7L1319.9,317.7Z"/><path d="M1337.3,384.7L1341.3,392.7L1333.3,392.7Z"/><path d="M1350.6,465.8L1354.6,473.8L1346.6,473.8Z"/><path d="M1363.9,488L1367.9,496L1359.9,496Z"/><path d="M1377.3,492.7L1381.3,500.7L1373.3,500.7Z"/><path d="M1390.6,494.3L1394.6,502.3L1386.6,502.3Z"/><path d="M1403.9,495.2L1407.9,503.2L1399.9,503.2Z"/><path d="M1417.2,495.9L1421.2,503.9L1413.2,503.9Z"/><path d="M1430.6,496L1434.6,504L1426.6,504Z"/><path d="M1443.9,496.1L1447.9,504.1L1439.9,504.1Z"/><path d="M1457.2,496.2L1461.2,504.2L1453.2,504.2Z"/><path d="M1470.6,496.3L1474.6,504.3L1466.6,504.3Z"/><path d="M1483.9,496.4L1487.9,504.4L1479.9,504.4Z"/><path d="M1497.2,496.6L1501.2,504.6L1493.2,504.6Z"/><path d="M1510.6,496.7L1514.6,504.7L1506.6,504.7Z"/><path d="M1523.9,496.8L1527.9,504.8L1519.9,504.8Z"/><path d="M1537.2,496.9L1541.2,504.9L1533.2,504.9Z"/><path d="M1550.5,497L1554.5,505L1546.5,505Z"/><path d="M1563.9,497.2L1567.9,505.2L1559.9,505.2Z"/><path d="M1577.2,497.3L1581.2,505.3L1573.2,505.3Z"/><path d="M1590.5,497.4L1594.5,505.4L1586.5,505.4Z"/><path d="M1603.9,497.5L1607.9,505.5L1599.9,505.5Z"/><path d="M1617.2,497.6L1621.2,505.6L1613.2,505.6Z"/><path d="M1630.5,497.7L1634.5,505.7L1626.5,505.7Z"/><path d="M1643.9,497.9L1647.9,505.9L1639.9,505.9Z"/><path d="M1657.2,498L1661.2,506L1653.2,506Z"/><path d="M1670.5,498.1L1674.5,506.1L1666.5,506.1Z"/><path d="M1683.8,498.2L1687.8,506.2L1679.8,506.2Z"/><path d="M1697.2,498.3L1701.2,506.3L1693.2,506.3Z"/><path d="M1710.5,498.4L1714.5,506.4L1706.5,506.4Z"/><path d="M1723.8,498.6L1727.8,506.6L1719.8,506.6Z"/><path d="M1737.2,498.7L1741.2,506.7L1733.2,506.7Z"/></g>
<path d="M1084,464.3C1088.4,463.8 1092.9,463.3 1097.3,462.9C1101.8,462.5 1106.2,461.8 1110.7,461.8C1115.1,461.8 1119.5,461.8 1124,461.8C1128.4,461.8 1132.9,462.3 1137.3,462.5C1141.8,462.7 1146.2,463 1150.7,463.3C1155.1,463.6 1159.5,463.9 1164,464.3C1168.4,464.7 1172.9,465 1177.3,465.6C1181.8,466.2 1186.2,467.3 1190.6,468.1C1195.1,468.9 1199.5,469.6 1204,470.2C1208.4,470.8 1212.9,471.1 1217.3,471.6C1221.7,472.1 1226.2,472.9 1230.6,473.3C1235.1,473.7 1239.5,474 1244,474.3C1248.4,474.6 1252.8,475.4 1257.3,475.4C1261.7,475.4 1266.2,472.2 1270.6,469.5C1275.1,466.8 1279.5,463 1284,456.7C1288.4,450.4 1292.8,435.9 1297.3,420C1301.7,404.1 1306.2,363.8 1310.6,352C1315.1,340.2 1319.5,328 1323.9,328C1328.4,328 1332.8,366.3 1337.3,386.7C1341.7,407.1 1346.2,441.3 1350.6,450.7C1355,460.1 1359.5,466.4 1363.9,468.9C1368.4,471.4 1372.8,472.8 1377.3,473.6C1381.7,474.4 1386.1,474.8 1390.6,475.1C1395,475.4 1399.5,475.5 1403.9,475.7C1408.4,475.9 1412.8,476.2 1417.2,476.2C1421.7,476.2 1426.1,476.2 1430.6,476.3C1435,476.3 1439.5,476.3 1443.9,476.3C1448.4,476.4 1452.8,476.4 1457.2,476.4C1461.7,476.4 1466.1,476.4 1470.6,476.5C1475,476.5 1479.5,476.5 1483.9,476.5C1488.3,476.6 1492.8,476.6 1497.2,476.6C1501.7,476.6 1506.1,476.6 1510.6,476.7C1515,476.7 1519.4,476.7 1523.9,476.7C1528.3,476.8 1532.8,476.8 1537.2,476.8C1541.7,476.8 1546.1,476.8 1550.5,476.9C1555,476.9 1559.4,476.9 1563.9,476.9C1568.3,477 1572.8,477 1577.2,477C1581.7,477 1586.1,477 1590.5,477.1C1595,477.1 1599.4,477.1 1603.9,477.1C1608.3,477.2 1612.8,477.2 1617.2,477.2C1621.6,477.2 1626.1,477.2 1630.5,477.3C1635,477.3 1639.4,477.3 1643.9,477.3C1648.3,477.4 1652.7,477.4 1657.2,477.4C1661.6,477.4 1666.1,477.4 1670.5,477.5C1675,477.5 1679.4,477.5 1683.8,477.5C1688.3,477.6 1692.7,477.6 1697.2,477.6C1701.6,477.6 1706.1,477.6 1710.5,477.7C1715,477.7 1719.4,477.7 1723.8,477.7C1728.3,477.8 1732.7,477.8 1737.2,477.8" stroke="#0000ff" stroke-width="2.6" fill="none" stroke-linejoin="round"/>
<g fill="#0000ff"><path d="M1080,461.6L1088,461.6L1084,469.6Z"/><path d="M1093.3,460.2L1101.3,460.2L1097.3,468.2Z"/><path d="M1106.7,459.1L1114.7,459.1L1110.7,467.1Z"/><path d="M1120,459.1L1128,459.1L1124,467.1Z"/><path d="M1133.3,459.8L1141.3,459.8L1137.3,467.8Z"/><path d="M1146.7,460.6L1154.7,460.6L1150.7,468.6Z"/><path d="M1160,461.6L1168,461.6L1164,469.6Z"/><path d="M1173.3,462.9L1181.3,462.9L1177.3,470.9Z"/><path d="M1186.6,465.4L1194.6,465.4L1190.6,473.4Z"/><path d="M1200,467.5L1208,467.5L1204,475.5Z"/><path d="M1213.3,468.9L1221.3,468.9L1217.3,476.9Z"/><path d="M1226.6,470.6L1234.6,470.6L1230.6,478.6Z"/><path d="M1240,471.6L1248,471.6L1244,479.6Z"/><path d="M1253.3,472.7L1261.3,472.7L1257.3,480.7Z"/><path d="M1266.6,466.8L1274.6,466.8L1270.6,474.8Z"/><path d="M1280,454L1288,454L1284,462Z"/><path d="M1293.3,417.3L1301.3,417.3L1297.3,425.3Z"/><path d="M1306.6,349.3L1314.6,349.3L1310.6,357.3Z"/><path d="M1319.9,325.3L1327.9,325.3L1323.9,333.3Z"/><path d="M1333.3,384L1341.3,384L1337.3,392Z"/><path d="M1346.6,448L1354.6,448L1350.6,456Z"/><path d="M1359.9,466.2L1367.9,466.2L1363.9,474.2Z"/><path d="M1373.3,470.9L1381.3,470.9L1377.3,478.9Z"/><path d="M1386.6,472.4L1394.6,472.4L1390.6,480.4Z"/><path d="M1399.9,473L1407.9,473L1403.9,481Z"/><path d="M1413.2,473.5L1421.2,473.5L1417.2,481.5Z"/><path d="M1426.6,473.6L1434.6,473.6L1430.6,481.6Z"/><path d="M1439.9,473.7L1447.9,473.7L1443.9,481.7Z"/><path d="M1453.2,473.7L1461.2,473.7L1457.2,481.7Z"/><path d="M1466.6,473.8L1474.6,473.8L1470.6,481.8Z"/><path d="M1479.9,473.9L1487.9,473.9L1483.9,481.9Z"/><path d="M1493.2,473.9L1501.2,473.9L1497.2,481.9Z"/><path d="M1506.6,474L1514.6,474L1510.6,482Z"/><path d="M1519.9,474.1L1527.9,474.1L1523.9,482.1Z"/><path d="M1533.2,474.1L1541.2,474.1L1537.2,482.1Z"/><path d="M1546.5,474.2L1554.5,474.2L1550.5,482.2Z"/><path d="M1559.9,474.3L1567.9,474.3L1563.9,482.3Z"/><path d="M1573.2,474.3L1581.2,474.3L1577.2,482.3Z"/><path d="M1586.5,474.4L1594.5,474.4L1590.5,482.4Z"/><path d="M1599.9,474.5L1607.9,474.5L1603.9,482.5Z"/><path d="M1613.2,474.5L1621.2,474.5L1617.2,482.5Z"/><path d="M1626.5,474.6L1634.5,474.6L1630.5,482.6Z"/><path d="M1639.9,474.7L1647.9,474.7L1643.9,482.7Z"/><path d="M1653.2,474.7L1661.2,474.7L1657.2,482.7Z"/><path d="M1666.5,474.8L1674.5,474.8L1670.5,482.8Z"/><path d="M1679.8,474.9L1687.8,474.9L1683.8,482.9Z"/><path d="M1693.2,474.9L1701.2,474.9L1697.2,482.9Z"/><path d="M1706.5,475L1714.5,475L1710.5,483Z"/><path d="M1719.8,475.1L1727.8,475.1L1723.8,483.1Z"/><path d="M1733.2,475.1L1741.2,475.1L1737.2,483.1Z"/></g>
<path d="M1084,435.4C1088.4,434.6 1092.9,433.9 1097.3,433.3C1101.8,432.7 1106.2,431.9 1110.7,431.6C1115.1,431.3 1119.5,431 1124,431C1128.4,431 1132.9,431 1137.3,431C1141.8,431 1146.2,431.3 1150.7,431.6C1155.1,431.9 1159.5,432.5 1164,433.1C1168.4,433.7 1172.9,434.3 1177.3,435.2C1181.8,436.1 1186.2,437.4 1190.6,438.5C1195.1,439.6 1199.5,440.8 1204,441.6C1208.4,442.4 1212.9,443 1217.3,443.7C1221.7,444.4 1226.2,445.1 1230.6,445.8C1235.1,446.5 1239.5,447 1244,447.9C1248.4,448.8 1252.8,452 1257.3,452C1261.7,452 1266.2,451.4 1270.6,450.4C1275.1,449.4 1279.5,442.5 1284,436.7C1288.4,430.9 1292.8,424.1 1297.3,413.3C1301.7,402.5 1306.2,371.7 1310.6,360C1315.1,348.3 1319.5,334 1323.9,334C1328.4,334 1332.8,362.4 1337.3,378.8C1341.7,395.2 1346.2,429.3 1350.6,433.3C1355,437.3 1359.5,438.1 1363.9,440C1368.4,441.9 1372.8,444.2 1377.3,445C1381.7,445.8 1386.1,446.2 1390.6,446.6C1395,447 1399.5,447.2 1403.9,447.4C1408.4,447.6 1412.8,447.8 1417.2,447.8C1421.7,447.8 1426.1,447.8 1430.6,447.9C1435,447.9 1439.5,447.9 1443.9,447.9C1448.4,448 1452.8,448 1457.2,448C1461.7,448 1466.1,448 1470.6,448.1C1475,448.1 1479.5,448.1 1483.9,448.1C1488.3,448.2 1492.8,448.2 1497.2,448.2C1501.7,448.2 1506.1,448.2 1510.6,448.3C1515,448.3 1519.4,448.3 1523.9,448.3C1528.3,448.4 1532.8,448.4 1537.2,448.4C1541.7,448.4 1546.1,448.4 1550.5,448.5C1555,448.5 1559.4,448.5 1563.9,448.5C1568.3,448.6 1572.8,448.6 1577.2,448.6C1581.7,448.6 1586.1,448.6 1590.5,448.7C1595,448.7 1599.4,448.7 1603.9,448.7C1608.3,448.8 1612.8,448.8 1617.2,448.8C1621.6,448.8 1626.1,448.8 1630.5,448.9C1635,448.9 1639.4,448.9 1643.9,448.9C1648.3,449 1652.7,449 1657.2,449C1661.6,449 1666.1,449 1670.5,449.1C1675,449.1 1679.4,449.1 1683.8,449.1C1688.3,449.2 1692.7,449.2 1697.2,449.2C1701.6,449.2 1706.1,449.2 1710.5,449.3C1715,449.3 1719.4,449.3 1723.8,449.3C1728.3,449.4 1732.7,449.4 1737.2,449.4" stroke="#00ffff" stroke-width="2.6" fill="none" stroke-linejoin="round"/>
<g fill="#00ffff"><path d="M1084,430.9L1087.5,435.4L1084,439.9L1080.5,435.4Z"/><path d="M1097.3,428.8L1100.8,433.3L1097.3,437.8L1093.8,433.3Z"/><path d="M1110.7,427.1L1114.2,431.6L1110.7,436.1L1107.2,431.6Z"/><path d="M1124,426.5L1127.5,431L1124,435.5L1120.5,431Z"/><path d="M1137.3,426.5L1140.8,431L1137.3,435.5L1133.8,431Z"/><path d="M1150.7,427.1L1154.2,431.6L1150.7,436.1L1147.2,431.6Z"/><path d="M1164,428.6L1167.5,433.1L1164,437.6L1160.5,433.1Z"/><path d="M1177.3,430.7L1180.8,435.2L1177.3,439.7L1173.8,435.2Z"/><path d="M1190.6,434L1194.1,438.5L1190.6,443L1187.1,438.5Z"/><path d="M1204,437.1L1207.5,441.6L1204,446.1L1200.5,441.6Z"/><path d="M1217.3,439.2L1220.8,443.7L1217.3,448.2L1213.8,443.7Z"/><path d="M1230.6,441.3L1234.1,445.8L1230.6,450.3L1227.1,445.8Z"/><path d="M1244,443.4L1247.5,447.9L1244,452.4L1240.5,447.9Z"/><path d="M1257.3,447.5L1260.8,452L1257.3,456.5L1253.8,452Z"/><path d="M1270.6,445.9L1274.1,450.4L1270.6,454.9L1267.1,450.4Z"/><path d="M1284,432.2L1287.5,436.7L1284,441.2L1280.5,436.7Z"/><path d="M1297.3,408.8L1300.8,413.3L1297.3,417.8L1293.8,413.3Z"/><path d="M1310.6,355.5L1314.1,360L1310.6,364.5L1307.1,360Z"/><path d="M1323.9,329.5L1327.4,334L1323.9,338.5L1320.4,334Z"/><path d="M1337.3,374.3L1340.8,378.8L1337.3,383.3L1333.8,378.8Z"/><path d="M1350.6,428.8L1354.1,433.3L1350.6,437.8L1347.1,433.3Z"/><path d="M1363.9,435.5L1367.4,440L1363.9,444.5L1360.4,440Z"/><path d="M1377.3,440.5L1380.8,445L1377.3,449.5L1373.8,445Z"/><path d="M1390.6,442.1L1394.1,446.6L1390.6,451.1L1387.1,446.6Z"/><path d="M1403.9,442.9L1407.4,447.4L1403.9,451.9L1400.4,447.4Z"/><path d="M1417.2,443.3L1420.8,447.8L1417.2,452.3L1413.8,447.8Z"/><path d="M1430.6,443.4L1434.1,447.9L1430.6,452.4L1427.1,447.9Z"/><path d="M1443.9,443.4L1447.4,447.9L1443.9,452.4L1440.4,447.9Z"/><path d="M1457.2,443.5L1460.7,448L1457.2,452.5L1453.7,448Z"/><path d="M1470.6,443.6L1474.1,448.1L1470.6,452.6L1467.1,448.1Z"/><path d="M1483.9,443.6L1487.4,448.1L1483.9,452.6L1480.4,448.1Z"/><path d="M1497.2,443.7L1500.7,448.2L1497.2,452.7L1493.7,448.2Z"/><path d="M1510.6,443.8L1514.1,448.3L1510.6,452.8L1507.1,448.3Z"/><path d="M1523.9,443.8L1527.4,448.3L1523.9,452.8L1520.4,448.3Z"/><path d="M1537.2,443.9L1540.7,448.4L1537.2,452.9L1533.7,448.4Z"/><path d="M1550.5,444L1554,448.5L1550.5,453L1547,448.5Z"/><path d="M1563.9,444L1567.4,448.5L1563.9,453L1560.4,448.5Z"/><path d="M1577.2,444.1L1580.7,448.6L1577.2,453.1L1573.7,448.6Z"/><path d="M1590.5,444.2L1594,448.7L1590.5,453.2L1587,448.7Z"/><path d="M1603.9,444.2L1607.4,448.7L1603.9,453.2L1600.4,448.7Z"/><path d="M1617.2,444.3L1620.7,448.8L1617.2,453.3L1613.7,448.8Z"/><path d="M1630.5,444.4L1634,448.9L1630.5,453.4L1627,448.9Z"/><path d="M1643.9,444.4L1647.4,448.9L1643.9,453.4L1640.4,448.9Z"/><path d="M1657.2,444.5L1660.7,449L1657.2,453.5L1653.7,449Z"/><path d="M1670.5,444.6L1674,449.1L1670.5,453.6L1667,449.1Z"/><path d="M1683.8,444.6L1687.3,449.1L1683.8,453.6L1680.3,449.1Z"/><path d="M1697.2,444.7L1700.7,449.2L1697.2,453.7L1693.7,449.2Z"/><path d="M1710.5,444.8L1714,449.3L1710.5,453.8L1707,449.3Z"/><path d="M1723.8,444.8L1727.3,449.3L1723.8,453.8L1720.3,449.3Z"/><path d="M1737.2,444.9L1740.7,449.4L1737.2,453.9L1733.7,449.4Z"/></g>
</g>
<g stroke="#1a1a1a" stroke-width="2.8" fill="none">
<path d="M1085.3,81H1750"/>
<path d="M1084,620H1750"/>
<path d="M1750,81V620"/>
<path d="M1107.8,81v5M1131.6,81v10M1155.4,81v5M1179.1,81v10M1202.9,81v5M1226.7,81v10M1250.5,81v5M1274.3,81v10M1298.1,81v5M1321.9,81v10M1345.6,81v5M1369.4,81v10M1393.2,81v5M1417,81v10M1440.8,81v5M1464.6,81v10M1488.4,81v5M1512.1,81v10M1535.9,81v5M1559.7,81v10M1583.5,81v5M1607.3,81v10M1631.1,81v5M1654.9,81v10M1678.6,81v5M1702.4,81v10M1726.2,81v5M1750,81v10M1084,620v9M1107.8,620v4.5M1131.6,620v9M1155.4,620v4.5M1179.1,620v9M1202.9,620v4.5M1226.7,620v9M1250.5,620v4.5M1274.3,620v9M1298.1,620v4.5M1321.9,620v9M1345.6,620v4.5M1369.4,620v9M1393.2,620v4.5M1417,620v9M1440.8,620v4.5M1464.6,620v9M1488.4,620v4.5M1512.1,620v9M1535.9,620v4.5M1559.7,620v9M1583.5,620v4.5M1607.3,620v9M1631.1,620v4.5M1654.9,620v9M1678.6,620v4.5M1702.4,620v9M1726.2,620v4.5M1750,620v9M1750,81h10M1750,130h4.5M1750,179h10M1750,228h4.5M1750,277h10M1750,326h4.5M1750,375h10M1750,424h4.5M1750,473h10M1750,522h4.5M1750,571h10M1750,620h4.5"/>
</g>
<path d="M1084,79.7V620M1073,81H1085.3" stroke="#e8283c" stroke-width="2.6" fill="none"/>
<path d="M1084,598.7h-10M1084,573.9h-4.5M1084,549.1h-10M1084,524.3h-4.5M1084,499.5h-10M1084,474.7h-4.5M1084,449.8h-10M1084,425h-4.5M1084,400.2h-10M1084,375.4h-4.5M1084,350.6h-10M1084,325.8h-4.5M1084,301h-10M1084,276.2h-4.5M1084,251.4h-10M1084,226.6h-4.5M1084,201.7h-10M1084,176.9h-4.5M1084,152.1h-10M1084,127.3h-4.5M1084,102.5h-10" stroke="#e8283c" stroke-width="2.2" fill="none"/>
<g font-family="Liberation Sans, Arial, sans-serif" stroke-width="0.45" font-size="23" fill="#1a1a1a" text-anchor="middle" stroke="#1a1a1a">
<text x="1084" y="64.5">0</text>
<text x="1131.6" y="64.5">10</text>
<text x="1179.1" y="64.5">20</text>
<text x="1226.7" y="64.5">30</text>
<text x="1274.3" y="64.5">40</text>
<text x="1321.9" y="64.5">50</text>
<text x="1369.4" y="64.5">60</text>
<text x="1417" y="64.5">70</text>
<text x="1464.6" y="64.5">80</text>
<text x="1512.1" y="64.5">90</text>
<text x="1559.7" y="64.5">100</text>
<text x="1607.3" y="64.5">110</text>
<text x="1654.9" y="64.5">120</text>
<text x="1702.4" y="64.5">130</text>
<text x="1750" y="64.5">140</text>
<text x="1084" y="655">−50</text>
<text x="1131.6" y="655">−40</text>
<text x="1179.1" y="655">−30</text>
<text x="1226.7" y="655">−20</text>
<text x="1274.3" y="655">−10</text>
<text x="1321.9" y="655">0</text>
<text x="1369.4" y="655">10</text>
<text x="1417" y="655">20</text>
<text x="1464.6" y="655">30</text>
<text x="1512.1" y="655">40</text>
<text x="1559.7" y="655">50</text>
<text x="1607.3" y="655">60</text>
<text x="1654.9" y="655">70</text>
<text x="1702.4" y="655">80</text>
<text x="1750" y="655">90</text>
</g>
<g font-family="Liberation Sans, Arial, sans-serif" stroke-width="0.45" font-size="23" fill="#e8283c" text-anchor="end" stroke="#e8283c">
<text x="1068" y="606.7">20</text>
<text x="1068" y="557.1">30</text>
<text x="1068" y="507.5">40</text>
<text x="1068" y="457.8">50</text>
<text x="1068" y="408.2">60</text>
<text x="1068" y="358.6">70</text>
<text x="1068" y="309">80</text>
<text x="1068" y="259.4">90</text>
<text x="1068" y="209.7">100</text>
<text x="1068" y="160.1">110</text>
<text x="1068" y="110.5">120</text>
</g>
<g font-family="Liberation Sans, Arial, sans-serif" stroke-width="0.45" font-size="23" fill="#1a1a1a" stroke="#1a1a1a">
<text x="1767" y="89">−30</text>
<text x="1767" y="187">−40</text>
<text x="1767" y="285">−50</text>
<text x="1767" y="383">−60</text>
<text x="1767" y="481">−70</text>
<text x="1767" y="579">−80</text>
</g>
<g font-family="Liberation Sans, Arial, sans-serif" stroke-width="0.45" font-size="28.3" fill="#1a1a1a" text-anchor="middle" stroke="#1a1a1a">
<text x="1417" y="28">Cure time (min)</text>
<text x="1417" y="699">Isothermal time (min)</text>
</g>
<text font-family="Liberation Sans, Arial, sans-serif" stroke-width="0.45" font-size="28.6" fill="#e8283c" text-anchor="middle" transform="translate(1017,350.5) rotate(-90)" stroke="#e8283c">Temperature (°C)</text>
<text font-family="Liberation Sans, Arial, sans-serif" stroke-width="0.45" font-size="27" fill="#1a1a1a" text-anchor="middle" transform="translate(895,350) rotate(-90)" stroke="#1a1a1a">|Z| (Ω)</text>
<text font-family="Liberation Sans, Arial, sans-serif" stroke-width="0.45" font-size="27" fill="#1a1a1a" text-anchor="middle" transform="translate(1838,349.5) rotate(-90)" stroke="#1a1a1a">θ (°)</text>
<rect x="464" y="291" width="248.5" height="174.5" fill="#fff" stroke="#bcbcbc" stroke-width="2"/>
<path d="M466.7,307H519.4" stroke="#e8283c" stroke-width="2.8"/>
<text x="527" y="315" font-family="Liberation Sans, Arial, sans-serif" stroke-width="0.45" font-size="23.4" fill="#1a1a1a" stroke="#1a1a1a">Temperature</text>
<path d="M466.7,335.6H519.4" stroke="#000" stroke-width="2.8"/>
<g fill="#000"><rect x="487.5" y="330.1" width="11" height="11"/></g>
<text x="527" y="343.6" font-family="Liberation Sans, Arial, sans-serif" stroke-width="0.45" font-size="23.4" fill="#1a1a1a" stroke="#1a1a1a">10kHz</text>
<path d="M466.7,364.7H519.4" stroke="#f09030" stroke-width="2.8"/>
<g fill="#ff0000"><circle cx="493" cy="364.7" r="6.2"/></g>
<text x="527" y="372.7" font-family="Liberation Sans, Arial, sans-serif" stroke-width="0.45" font-size="23.4" fill="#1a1a1a" stroke="#1a1a1a">20kHz</text>
<path d="M466.7,393.3H519.4" stroke="#00ff00" stroke-width="2.8"/>
<g fill="#00ff00"><path d="M493,384L500,398L486,398Z"/></g>
<text x="527" y="401.3" font-family="Liberation Sans, Arial, sans-serif" stroke-width="0.45" font-size="23.4" fill="#1a1a1a" stroke="#1a1a1a">30kHz</text>
<path d="M466.7,422.5H519.4" stroke="#0000ff" stroke-width="2.8"/>
<g fill="#0000ff"><path d="M486,418.2L500,418.2L493,431.2Z"/></g>
<text x="527" y="430.5" font-family="Liberation Sans, Arial, sans-serif" stroke-width="0.45" font-size="23.4" fill="#1a1a1a" stroke="#1a1a1a">40kHz</text>
<path d="M466.7,451.4H519.4" stroke="#00ffff" stroke-width="2.8"/>
<g fill="#00ffff"><path d="M493,443.9L500,451.4L493,458.9L486,451.4Z"/></g>
<text x="527" y="459.4" font-family="Liberation Sans, Arial, sans-serif" stroke-width="0.45" font-size="23.4" fill="#1a1a1a" stroke="#1a1a1a">50kHz</text>
<rect x="1457.2" y="171.1" width="250" height="177" fill="#fff" stroke="#bcbcbc" stroke-width="2"/>
<path d="M1460.8,186.9H1514.4" stroke="#e8283c" stroke-width="2.8"/>
<text x="1521" y="194.9" font-family="Liberation Sans, Arial, sans-serif" stroke-width="0.45" font-size="23.4" fill="#1a1a1a" stroke="#1a1a1a">Temperature</text>
<path d="M1460.8,216.3H1514.4" stroke="#000" stroke-width="2.8"/>
<g fill="#000"><circle cx="1487.6" cy="216.3" r="3.5"/></g>
<text x="1521" y="224.3" font-family="Liberation Sans, Arial, sans-serif" stroke-width="0.45" font-size="23.4" fill="#1a1a1a" stroke="#1a1a1a">10kHz</text>
<path d="M1460.8,244.6H1514.4" stroke="#f09030" stroke-width="2.8"/>
<g fill="#ff0000"><circle cx="1487.6" cy="244.6" r="3.5"/></g>
<text x="1521" y="252.6" font-family="Liberation Sans, Arial, sans-serif" stroke-width="0.45" font-size="23.4" fill="#1a1a1a" stroke="#1a1a1a">20kHz</text>
<path d="M1460.8,273.8H1514.4" stroke="#00ff00" stroke-width="2.8"/>
<g fill="#00ff00"><path d="M1487.6,268.5L1491.6,276.5L1483.6,276.5Z"/></g>
<text x="1521" y="281.8" font-family="Liberation Sans, Arial, sans-serif" stroke-width="0.45" font-size="23.4" fill="#1a1a1a" stroke="#1a1a1a">30kHz</text>
<path d="M1460.8,302.9H1514.4" stroke="#0000ff" stroke-width="2.8"/>
<g fill="#0000ff"><path d="M1483.6,300.2L1491.6,300.2L1487.6,308.2Z"/></g>
<text x="1521" y="310.9" font-family="Liberation Sans, Arial, sans-serif" stroke-width="0.45" font-size="23.4" fill="#1a1a1a" stroke="#1a1a1a">40kHz</text>
<path d="M1460.8,332H1514.4" stroke="#00ffff" stroke-width="2.8"/>
<g fill="#00ffff"><path d="M1487.6,327.5L1491.1,332L1487.6,336.5L1484.1,332Z"/></g>
<text x="1521" y="340" font-family="Liberation Sans, Arial, sans-serif" stroke-width="0.45" font-size="23.4" fill="#1a1a1a" stroke="#1a1a1a">50kHz</text>
<text x="3" y="706.5" font-family="Noto Sans CJK KR, Liberation Sans, sans-serif" font-size="42" letter-spacing="1.8" stroke="none" fill="#1a1a1a">a)</text>
<text x="993" y="706.5" font-family="Noto Sans CJK KR, Liberation Sans, sans-serif" font-size="42" letter-spacing="1.8" stroke="none" fill="#1a1a1a">b)</text>
</svg></body></html>
